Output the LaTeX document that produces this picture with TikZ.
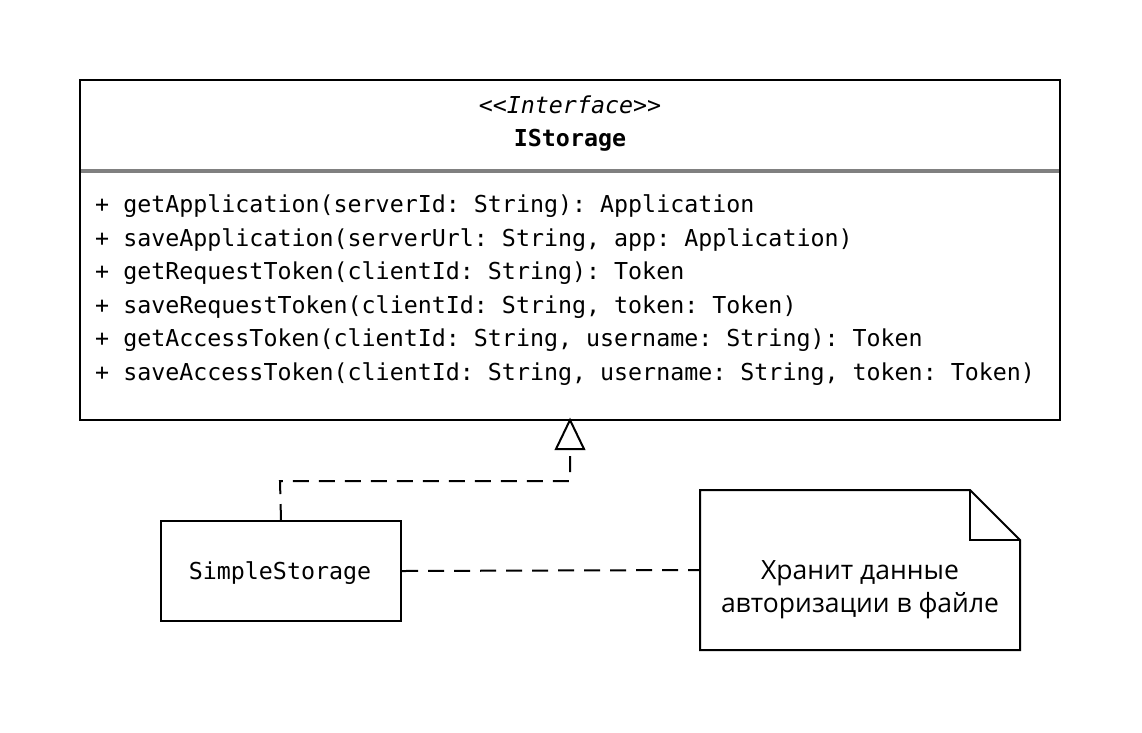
\documentclass[tikz,border=0pt]{standalone}
\usepackage{fontspec}
\setmonofont{DejaVu Sans Mono}
\newfontfamily\notefont{Open Sans}
\begin{document}
\begin{tikzpicture}[x=1pt,y=-1pt,
  box/.style={draw=black,line width=2pt,fill=white},
  mono/.style={font=\ttfamily\fontsize{23.3}{26}\selectfont,inner sep=0pt},
  dline/.style={draw=black,line width=2pt,dash pattern=on 16pt off 10pt},
  notetext/.style={font=\notefont\fontsize{26.5}{33}\selectfont,inner sep=0pt,align=center}]
\useasboundingbox (0,0) rectangle (1142,732);
% interface
\draw[box] (80,80) rectangle (1060,420);
\coordinate (ifbot) at (570,420);
\draw[line width=4pt,draw=gray] (81,170.5) -- (1059,170.5);
\node[mono,anchor=base] (stereo) at (570,113) {\itshape <<Interface>>};
\node[mono,anchor=base] (iname) at (570,146) {\bfseries IStorage};
\node[mono,anchor=base west] (m1) at (95,212) {+ getApplication(serverId: String): Application};
\node[mono,anchor=base west] (m2) at (95,246) {+ saveApplication(serverUrl: String, app: Application)};
\node[mono,anchor=base west] (m3) at (95,279) {+ getRequestToken(clientId: String): Token};
\node[mono,anchor=base west] (m4) at (95,313) {+ saveRequestToken(clientId: String, token: Token)};
\node[mono,anchor=base west] (m5) at (95,346) {+ getAccessToken(clientId: String, username: String): Token};
\node[mono,anchor=base west] (m6) at (95,380) {+ saveAccessToken(clientId: String, username: String, token: Token)};
% simple storage
\node[box,minimum width=240pt,minimum height=100pt,anchor=north west,inner sep=0pt] (ss) at (160,520) {};
\node[mono,anchor=base] (sstext) at (280,579) {SimpleStorage};
% note
\draw[box] (700,490) -- (970,490) -- (1020,540) -- (1020,650) -- (700,650) -- cycle;
\draw[line width=2pt] (970,490) -- (970,540) -- (1020,540);
\coordinate (note) at (700,570);
\node[notetext] (nt) at (860,590) {Хранит данные\\авторизации в файле};
% realization
\coordinate (tri) at (570,449);
\draw[dline] (ss.north) -- (280,481) -- (570,481) -- (tri);
\draw[line width=2pt,fill=white,line join=miter] (ifbot) -- (584,449) -- (556,449) -- cycle;
% note link
\draw[dline] (ss.east) -- (note);
\end{tikzpicture}
\end{document}
